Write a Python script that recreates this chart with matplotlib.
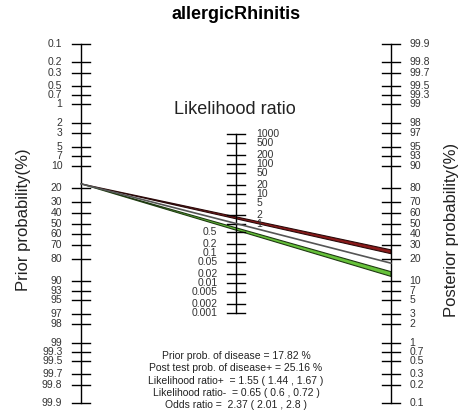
import numpy as np
import matplotlib
matplotlib.use("Agg")
import matplotlib.pyplot as plt

plt.rcParams['font.family'] = ['Liberation Sans', 'DejaVu Sans']

# values
title = "allergicRhinitis"
prior = 17.82            # %
post_pos = 25.16         # %
lr_pos = 1.55
lr_pos_ci = [1.44, 1.67]
lr_neg = 0.65
lr_neg_ci = [0.6, 0.72]
odds_ratio = 2.37
odds_ratio_ci = [2.01, 2.8]

prob_ticks = [0.1, 0.2, 0.3, 0.5, 0.7, 1, 2, 3, 5, 7, 10, 20, 30, 40, 50, 60,
              70, 80, 90, 93, 95, 97, 98, 99, 99.3, 99.5, 99.7, 99.8, 99.9]
lr_ticks = [1000, 500, 200, 100, 50, 20, 10, 5, 2, 1, 0.5, 0.2, 0.1, 0.05,
            0.02, 0.01, 0.005, 0.002, 0.001]


def logit(p):
    p = np.asarray(p, dtype=float) / 100.0
    return np.log(p / (1 - p))


def fmt(v):
    return ("%g" % v)


fig = plt.figure(figsize=(4.64, 4.16), dpi=100)
ax = fig.add_axes([0, 0, 1, 1])
ax.set_axis_off()
# x: left axis -1, LR axis 0, right axis 1 ; y in logit units
ax.set_xlim(-1.5226, 1.471)
ax.set_ylim(-7.419, 8.614)

tick_half = 0.06
lab_col = "#333333"
tfs = 7.5

# left axis (prior), inverted
yl = -logit(prob_ticks)
ax.plot([-1, -1], [yl.min(), yl.max()], color="black", lw=1)
for v, y in zip(prob_ticks, yl):
    ax.plot([-1 - tick_half, -1 + tick_half], [y, y], color="black", lw=1)
    ax.text(-1.12, y, fmt(v), ha="right", va="center", fontsize=tfs, color=lab_col)

# right axis (posterior)
yr = logit(prob_ticks)
ax.plot([1, 1], [yr.min(), yr.max()], color="black", lw=1)
for v, y in zip(prob_ticks, yr):
    ax.plot([1 - tick_half, 1 + tick_half], [y, y], color="black", lw=1)
    ax.text(1.12, y, fmt(v), ha="left", va="center", fontsize=tfs, color=lab_col)

# middle axis (likelihood ratio)
ym = np.log(lr_ticks) / 2
ax.plot([0, 0], [ym.min(), ym.max()], color="black", lw=1)
for v, y in zip(lr_ticks, ym):
    ax.plot([-tick_half, tick_half], [y, y], color="black", lw=1)
    if v >= 1:
        ax.text(0.13, y, fmt(v), ha="left", va="center", fontsize=tfs, color=lab_col)
    else:
        ax.text(-0.12, y, fmt(v), ha="right", va="center", fontsize=tfs, color=lab_col)

# lines through the nomogram
y0 = -logit(prior)
# LR = 1 reference line
ax.plot([-1, 1], [y0, logit(prior)], color="#555555", lw=1.2)
# positive band
ax.fill([-1, 1, 1], [y0, -y0 + np.log(lr_pos_ci[0]), -y0 + np.log(lr_pos_ci[1])],
        facecolor="#8b1a1a", edgecolor="#2a0a0a", lw=0.8)
# negative band
ax.fill([-1, 1, 1], [y0, -y0 + np.log(lr_neg_ci[0]), -y0 + np.log(lr_neg_ci[1])],
        facecolor="#66c23a", edgecolor="#1f3a12", lw=0.8)

# labels
ax.text(0.0, 8.07, title, ha="center", va="center", fontsize=13, fontweight="bold")
ax.text(-0.01, 4.41, "Likelihood ratio", ha="center", va="center", fontsize=13,
        color="#222222")
ax.text(-1.37, 0.13, "Prior probability(%)", ha="center", va="center", rotation=90,
        fontsize=12, color="#222222")
ax.text(1.39, -0.25, "Posterior probability(%)", ha="center", va="center",
        rotation=90, fontsize=12, color="#222222")

info = [
    "Prior prob. of disease = %.2f %%" % prior,
    "Post test prob. of disease+ = %.2f %%" % post_pos,
    "Likelihood ratio+  = %g ( %g , %g )" % (lr_pos, lr_pos_ci[0], lr_pos_ci[1]),
    "Likelihood ratio-  = %g ( %g , %g )" % (lr_neg, lr_neg_ci[0], lr_neg_ci[1]),
    "Odds ratio =  %g ( %g , %g )" % (odds_ratio, odds_ratio_ci[0], odds_ratio_ci[1]),
]
for i, line in enumerate(info):
    ax.text(0.0, -5.11 - i * 0.474, line, ha="center", va="center", fontsize=7.5,
            color="#222222")

fig.savefig("out.png", dpi=100)
